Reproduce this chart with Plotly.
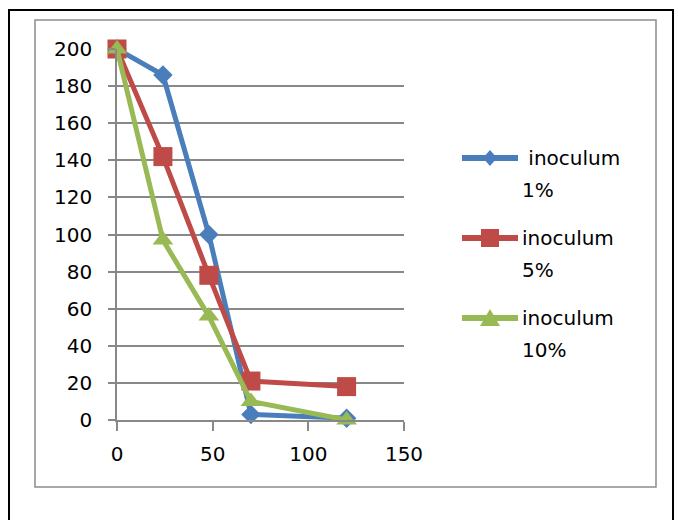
import plotly.graph_objects as go

# Sampling times and remaining concentration for each inoculum level
times = [0, 24, 48, 70, 120]
inoculum_1 = [200, 186, 100, 3, 1]
inoculum_5 = [200, 142, 78, 21, 18]
inoculum_10 = [200, 97, 56, 10, 0]

series_names = ["inoculum 1%", "inoculum 5%", "inoculum 10%"]
legend_lines = [("\u00a0inoculum", "1%"), ("inoculum", "5%"), ("inoculum", "10%")]
series_values = [inoculum_1, inoculum_5, inoculum_10]
colors = ["#4A7EBB", "#BE4B48", "#98B954"]
symbols = ["diamond", "square", "triangle-up"]
marker_sizes = [15, 19, 18]

x_ticks = [0, 50, 100, 150]
y_ticks = list(range(0, 201, 20))

W, H = 678, 520
L, R, T, B = 117, 404, 49, 420  # plot area in pixels


def px_x(p):
    return (p - L) / (R - L)


def px_y(p):
    return (B - p) / (B - T)


fig = go.Figure()
for i, (name, vals) in enumerate(zip(series_names, series_values)):
    fig.add_trace(go.Scatter(
        x=times, y=vals, name=name, mode="lines+markers",
        line=dict(color=colors[i], width=5),
        marker=dict(symbol=symbols[i], size=marker_sizes[i], color=colors[i]),
        cliponaxis=False, showlegend=False,
    ))

grid_color = "#888888"
fig.update_layout(
    width=W, height=H,
    margin=dict(l=L, r=W - R, t=T, b=H - B),
    paper_bgcolor="white", plot_bgcolor="white",
    font=dict(family="DejaVu Sans", size=20, color="black"),
    showlegend=False,
    xaxis=dict(
        range=[0, 150], tickvals=x_ticks, showgrid=False, zeroline=False,
        showline=True, linecolor=grid_color, linewidth=1.5,
        ticks="outside", ticklen=9, tickcolor=grid_color, tickwidth=1.5,
        ticklabelstandoff=6,
    ),
    yaxis=dict(
        range=[0, 200], tickvals=y_ticks, showgrid=True, gridcolor=grid_color,
        gridwidth=1.5, zeroline=False,
        showline=True, linecolor=grid_color, linewidth=1.5,
        ticks="outside", ticklen=7, tickcolor=grid_color, tickwidth=1.5,
        ticklabelstandoff=12,
    ),
)

# Legend drawn beside the plot: line sample with marker, then a two-line label
legend_rows = [158, 238, 318]
line_x0, line_x1, sym_x = 462, 518, 490
for i, row in enumerate(legend_rows):
    c = colors[i]
    fig.add_shape(type="line", xref="paper", yref="paper",
                  x0=px_x(line_x0), x1=px_x(line_x1), y0=px_y(row), y1=px_y(row),
                  line=dict(color=c, width=6))
    if symbols[i] == "diamond":
        pts = [(sym_x - 7, row), (sym_x, row - 8), (sym_x + 7, row), (sym_x, row + 8)]
    elif symbols[i] == "square":
        pts = [(sym_x - 9, row - 9), (sym_x + 9, row - 9), (sym_x + 9, row + 9), (sym_x - 9, row + 9)]
    else:
        pts = [(sym_x - 10, row + 8), (sym_x, row - 9), (sym_x + 10, row + 8)]
    path = "M " + " L ".join(f"{px_x(a):.5f},{px_y(b):.5f}" for a, b in pts) + " Z"
    fig.add_shape(type="path", xref="paper", yref="paper", path=path,
                  fillcolor=c, line=dict(color=c, width=0))
    first, second = legend_lines[i]
    fig.add_annotation(xref="paper", yref="paper", x=px_x(520), y=px_y(row),
                       xanchor="left", yanchor="middle", showarrow=False,
                       text=first, font=dict(family="DejaVu Sans", size=20, color="black"))
    fig.add_annotation(xref="paper", yref="paper", x=px_x(520), y=px_y(row + 32),
                       xanchor="left", yanchor="middle", showarrow=False,
                       text=second, font=dict(family="DejaVu Sans", size=20, color="black"))

# Chart area borders: gray inner frame and black outer frame
fig.add_shape(type="rect", xref="paper", yref="paper",
              x0=px_x(35), x1=px_x(656), y0=px_y(487), y1=px_y(20),
              line=dict(color="#8C8C8C", width=1.5), layer="below")
fig.add_shape(type="rect", xref="paper", yref="paper",
              x0=px_x(9), x1=px_x(673), y0=px_y(540), y1=px_y(10),
              line=dict(color="black", width=2), layer="below")

fig.write_html("out.html")
